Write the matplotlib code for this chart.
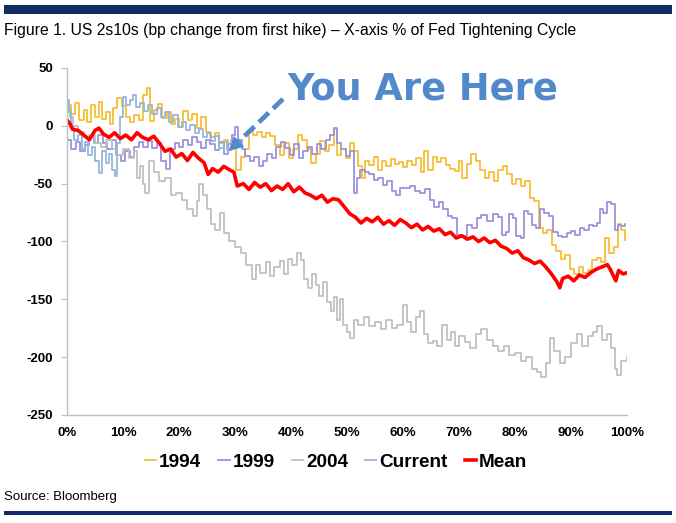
import matplotlib
matplotlib.use("Agg")
import matplotlib.pyplot as plt
from matplotlib import font_manager
from matplotlib.lines import Line2D
from matplotlib.patches import Rectangle, Polygon
from matplotlib.font_manager import FontProperties

# ---------------- data (x = % of tightening cycle, value = bp change) ----------------
x1994 = [0, 0.8, 1.5, 2.2, 3, 3.6, 4.2, 5, 5.7, 6.3, 7, 7.6, 8.3, 9, 9.8, 10.5, 11.2, 12, 12.8,
         13.5, 14.2, 14.8, 15.5, 16.3, 17, 17.8, 18.5, 19.3, 20, 20.8, 21.6, 22.4, 23.2, 24, 24.8,
         25.6, 26.4, 27.2, 28, 28.8, 29.6, 30.2, 31, 31.8, 32.5, 33.2, 34, 34.8, 35.5, 36.3, 37.2,
         38, 38.8, 39.6, 40.4, 41.2, 42, 42.8, 43.6, 44.4, 45.2, 46, 46.8, 47.6, 48.3, 49, 49.8,
         50.5, 51.2, 52, 52.6, 53.3, 54, 54.8, 55.5, 56.3, 57, 57.8, 58.5, 59.3, 60, 60.8, 61.6,
         62.4, 63.2, 63.8, 64.5, 65.3, 66, 66.8, 67.6, 68.4, 69.2, 70, 70.6, 71.4, 72.2, 73, 73.8,
         74.6, 75.4, 76.2, 77, 77.8, 78.6, 79.4, 80.2, 81, 81.8, 82.6, 83.4, 84.2, 85, 85.8, 86.6,
         87.4, 88.2, 89, 89.8, 90.6, 91.4, 92.2, 93, 93.8, 94.6, 95.4, 96, 96.8, 97.6, 98.4, 99, 99.7]
v1994 = [18, 10, 20, 5, 14, 3, 18, 8, 21, 6, 12, 2, 15, 24, 17, 8, 3, 9, 5,
         27, 33, 4, 14, 19, 7, 12, 2, 6, -1, 13, 5, 10, -2, 8, -5,
         -10, -6, -15, -12, -19, -14, -38, -27, -20, -4, -8, -5, -10, -6, -9, -17,
         -25, -15, -28, -20, -8, -12, -20, -32, -24, -13, -22, -17, -3, -25, -20, -28,
         -15, -22, -35, -45, -30, -34, -27, -38, -30, -35, -29, -33, -31, -36, -30, -34,
         -28, -40, -22, -38, -27, -31, -28, -34, -37, -39, -30, -45, -33, -24, -30, -38,
         -45, -40, -48, -38, -35, -42, -50, -46, -52, -48, -62, -65, -88, -93, -90, -103,
         -108, -115, -112, -124, -128, -122, -127, -125, -116, -114, -118, -97, -110, -105, -85, -90, -99]

x1999 = [0, 0.8, 1.6, 2.4, 3.2, 4, 4.8, 5.6, 6.4, 7.2, 8, 8.8, 9.6, 10.4, 11.2, 12, 12.8, 13.6,
         14.4, 15.2, 16, 16.8, 17.6, 18.4, 19.2, 20, 20.8, 21.6, 22.4, 23.2, 24, 24.8, 25.6, 26.4,
         27.2, 28, 28.8, 29.5, 30, 30.6, 31.2, 31.8, 32.6, 33.4, 34.2, 35, 35.8, 36.6, 37.4, 38.2,
         39, 39.8, 40.6, 41.4, 42.2, 43, 43.8, 44.6, 45.4, 46.2, 47, 47.6, 48.2, 49, 49.8, 50.6,
         51.2, 51.8, 52.4, 53.2, 54, 54.8, 55.6, 56.4, 57.2, 58, 58.8, 59.4, 60.4, 61.2, 62.2, 63,
         64, 64.8, 65.6, 66.4, 67.2, 68, 68.8, 69.6, 70.6, 71.4, 72.4, 73.2, 74, 75, 76, 77, 77.6,
         78.4, 79, 79.6, 80.2, 81, 81.6, 82.4, 83, 83.8, 84.4, 85.2, 86, 86.8, 87.6, 88.4, 89.2,
         90, 90.8, 91.6, 92.4, 93.2, 94, 94.6, 95.2, 95.8, 96.4, 97.2, 97.8, 98.4, 99, 99.7]
v1999 = [-12, -20, -14, -22, -17, -10, -15, -8, -15, -20, -12, -25, -30, -22, -27, -18, -14, -18,
         -13, -19, -15, -30, -37, -20, -15, -18, -12, -17, -10, -14, -19, -12, -16, -21,
         -14, -24, -16, -8, -1, -12, -20, -26, -30, -27, -35, -30, -24, -28, -18, -14,
         -19, -25, -16, -28, -22, -18, -24, -16, -20, -12, -8, -2, -15, -20, -26, -22,
         -58, -45, -38, -40, -42, -47, -45, -51, -48, -56, -60, -54, -54, -52, -56, -58,
         -55, -64, -70, -66, -72, -78, -80, -94, -95, -86, -88, -80, -77, -82, -76, -79, -94,
         -92, -76, -80, -95, -97, -74, -76, -86, -88, -72, -75, -78, -92, -95, -96, -93,
         -91, -94, -88, -90, -86, -87, -84, -72, -75, -66, -68, -90, -86, -87, -85]

x2004 = [0, 0.5, 1, 2, 3, 4, 5, 6, 7, 8, 9, 10, 11, 12, 12.5, 13, 13.5, 14, 14.7, 15.5, 16.5,
         17.5, 18.5, 19.5, 20.5, 21.5, 22.5, 23.2, 23.6, 24.2, 25, 25.8, 26.5, 27.4, 28, 29, 30,
         31, 32, 33, 33.7, 34.5, 35.5, 36.3, 37, 38, 38.7, 39.5, 40.2, 41, 41.7, 42.4, 43, 43.7,
         44.4, 45, 45.7, 46.5, 47.2, 47.6, 48.2, 48.7, 49.2, 50, 50.5, 51.2, 52, 53, 54, 55, 56,
         57, 58, 59, 60, 60.7, 61.5, 62.3, 63, 63.8, 64.5, 65.3, 66, 67, 67.8, 68.5, 69.3, 70,
         71, 72, 73, 74, 75, 76, 77, 78, 79, 80, 81, 82, 83, 84, 84.6, 85.5, 86.2, 87, 88, 89,
         90, 91, 92, 93, 94, 94.6, 95.5, 96.5, 97.2, 97.8, 98.3, 99, 100]
v2004 = [15, 8, 0, -5, -10, -8, -15, -18, -12, -20, -25, -20, -28, -22, -45, -35, -50, -58, -30,
         -40, -48, -45, -60, -58, -64, -72, -78, -65, -50, -60, -72, -85, -90, -75, -93, -100,
         -105, -110, -120, -132, -120, -127, -118, -130, -122, -117, -128, -115, -120, -110,
         -116, -132, -140, -128, -138, -147, -135, -152, -160, -148, -168, -150, -172, -178,
         -183, -168, -172, -165, -173, -170, -176, -168, -175, -172, -155, -170, -178, -165,
         -160, -180, -188, -186, -190, -172, -185, -178, -190, -182, -187, -192, -180, -176,
         -185, -190, -195, -190, -198, -196, -203, -200, -210, -213, -217, -205, -183, -195,
         -205, -200, -188, -180, -190, -182, -178, -173, -185, -180, -192, -210, -215, -203, -200]

xCurrent = [0, 0.4, 0.8, 1.3, 2, 2.6, 3.2, 3.8, 4.4, 5, 5.7, 6.3, 6.9, 7.5, 8.1, 8.6, 9, 9.5, 10,
            10.6, 11.2, 11.7, 12.3, 13, 13.7, 14.4, 15.2, 16, 16.8, 17.5, 18.2, 19, 19.8, 20.5,
            21.3, 22, 22.8, 23.5, 24.3, 25, 25.8, 26.5, 27.2, 28, 28.6, 29.3, 30]
vCurrent = [22, 12, -2, -12, -8, -20, -14, -25, -18, -30, -41, -22, -32, -24, -38, -43, -15, 8, 25,
            18, 22, 27, 16, 20, 13, 18, 10, 15, 8, 12, 3, 9, -1, 3,
            -4, 1, -6, -3, -10, -6, -13, -9, -19, -14, -21, -12, -15]

xMean = [0, 0.5, 1, 2, 3, 4, 5, 5.7, 6.5, 7.5, 8.5, 9.5, 10.5, 11.5, 12.5, 13.5, 14.5, 15.5, 16.5,
         17.5, 18.5, 19.5, 20.5, 21.5, 22.5, 23.5, 24.5, 25.2, 26, 27, 28, 29, 29.8, 30.4, 31.5,
         32.5, 33.5, 34.5, 35.5, 36.5, 37.5, 38.5, 39.5, 40.5, 41.5, 42.5, 43.5, 44.5, 45.5, 46.5,
         47.5, 48.5, 49.5, 50.5, 51.5, 52.5, 53.5, 54.5, 55.5, 56.5, 57.5, 58.5, 59.5, 60.5, 61.5,
         62.5, 63.5, 64.5, 65.5, 66.5, 67.5, 68.5, 69.5, 70.5, 71.5, 72.5, 73.5, 74.5, 75.5, 76.5,
         77.5, 78.5, 79.5, 80.5, 81.5, 82.5, 83.5, 84.5, 85.5, 86.5, 87.5, 88, 88.5, 89.5, 90.5,
         91.5, 92.5, 93.5, 94.5, 95.5, 96.5, 97, 98, 98.5, 99.3, 100]
vMean = [5, 2, -3, -4, -8, -12, -4, -2, -7, -10, -6, -11, -8, -12, -6, -10, -12, -9, -15,
         -22, -20, -27, -24, -30, -23, -28, -32, -42, -37, -40, -35, -38, -40, -52, -50,
         -55, -49, -53, -50, -56, -52, -55, -50, -57, -53, -58, -60, -63, -60, -66,
         -63, -64, -70, -76, -79, -84, -80, -83, -79, -85, -82, -86, -81, -84, -88,
         -85, -90, -87, -91, -89, -94, -92, -97, -95, -98, -96, -100, -97, -101, -99,
         -104, -106, -110, -108, -114, -116, -119, -117, -122, -128, -135, -140, -132, -130, -134,
         -129, -131, -127, -124, -122, -120, -124, -134, -125, -128, -127]

series_names = ["1994", "1999", "2004", "Current", "Mean"]
x_ticks = [0, 10, 20, 30, 40, 50, 60, 70, 80, 90, 100]
x_tick_labels = [f"{t}%" for t in x_ticks]
y_ticks = [-250, -200, -150, -100, -50, 0, 50]

# ---------------- fonts ----------------
names = {f.name for f in font_manager.fontManager.ttflist}
HAS_NARROW = "Liberation Sans Narrow" in names
NARROW = "Liberation Sans Narrow" if HAS_NARROW else "Liberation Sans"
k = 1.0 if HAS_NARROW else 0.83  # shrink factor when no condensed face

W, H = 676, 523
fig = plt.figure(figsize=(W / 100, H / 100), dpi=100)
fig.patch.set_facecolor("white")


def fx(px):
    return px / W


def fy(py):
    return 1 - py / H


ax = fig.add_axes([fx(67), fy(415), fx(627) - fx(67), fy(68) - fy(415)])

colors = {"1994": "#F6BE35", "1999": "#9D93DB", "2004": "#C0C0C0",
          "Current": "#95B6DC", "Mean": "#FF0000"}

ax.plot(x1994, v1994, color=colors["1994"], lw=1.3, drawstyle="steps-post")
ax.plot(x1999, v1999, color=colors["1999"], lw=1.3, drawstyle="steps-post")
ax.plot(x2004, v2004, color=colors["2004"], lw=1.3, drawstyle="steps-post")
ax.plot(xCurrent, vCurrent, color=colors["Current"], lw=1.3, drawstyle="steps-post")
ax.plot(xMean, vMean, color=colors["Mean"], lw=2.6)

ax.set_xlim(0, 100)
ax.set_ylim(-250, 50)
ax.set_xticks(x_ticks)
ax.set_xticklabels(x_tick_labels)
ax.set_yticks(y_ticks)
ax.set_yticklabels([str(t) for t in y_ticks])

for s in ["top", "right"]:
    ax.spines[s].set_visible(False)
for s in ["left", "bottom"]:
    ax.spines[s].set_color("#BFBFBF")
    ax.spines[s].set_linewidth(1.0)

tick_font = FontProperties(family=NARROW, weight="bold", size=11 * k + (0.4 if not HAS_NARROW else 0))
ax.tick_params(axis="x", length=0, pad=9)
ax.tick_params(axis="y", length=4, color="#BFBFBF", pad=6)
for lab in ax.get_xticklabels() + ax.get_yticklabels():
    lab.set_fontproperties(tick_font)
    lab.set_color("#000000")

# ---------------- title, bars, source ----------------
fig.add_artist(Rectangle((fx(4), fy(14)), fx(672) - fx(4), fy(5) - fy(14),
                         transform=fig.transFigure, color="#0E2C66", lw=0))
fig.add_artist(Rectangle((fx(4), fy(515)), fx(672) - fx(4), fy(511) - fy(515),
                         transform=fig.transFigure, color="#0E2C66", lw=0))
fig.text(fx(4), fy(31), "Figure 1. US 2s10s (bp change from first hike) \u2013 X-axis % of Fed Tightening Cycle",
         family=NARROW, size=(13.5 if HAS_NARROW else 11.35), va="center", ha="left", color="#000000")
fig.text(fx(4), fy(497), "Source: Bloomberg", family=NARROW, size=(11 if HAS_NARROW else 9.5),
         va="center", ha="left")

# ---------------- legend ----------------
handles = [Line2D([], [], color=colors[n], lw=(2.6 if n == "Mean" else 1.3)) for n in series_names]
fig.legend(handles, series_names, loc="center", bbox_to_anchor=(fx(336), fy(462)), ncol=5,
           frameon=False, handlelength=0.6, handletextpad=0.15, columnspacing=0.9,
           prop=FontProperties(family=NARROW, weight="bold", size=(15 if HAS_NARROW else 13.7)))

# ---------------- "You Are Here" annotation ----------------
ann_color = "#5189CB"
fig.text(fx(287), fy(89), "You Are Here", family="DejaVu Sans", weight="bold", size=26.5,
         color=ann_color, va="center", ha="left")
start = (283, 99)
tip = (229, 151)
head_len, head_half = 14, 7.5
dx, dy = tip[0] - start[0], tip[1] - start[1]
L = (dx ** 2 + dy ** 2) ** 0.5
ux, uy = dx / L, dy / L
base = (tip[0] - head_len * ux, tip[1] - head_len * uy)
fig.add_artist(Line2D([fx(start[0]), fx(base[0])], [fy(start[1]), fy(base[1])],
                      transform=fig.transFigure, color=ann_color, lw=3.4,
                      dashes=[2.9, 1.3], solid_capstyle="butt", dash_capstyle="butt"))
px, py = -uy, ux
head = [(fx(tip[0]), fy(tip[1])),
        (fx(base[0] + head_half * px), fy(base[1] + head_half * py)),
        (fx(base[0] - head_half * px), fy(base[1] - head_half * py))]
fig.add_artist(Polygon(head, closed=True, transform=fig.transFigure, color=ann_color, lw=0))

fig.savefig("out.png", dpi=100)
